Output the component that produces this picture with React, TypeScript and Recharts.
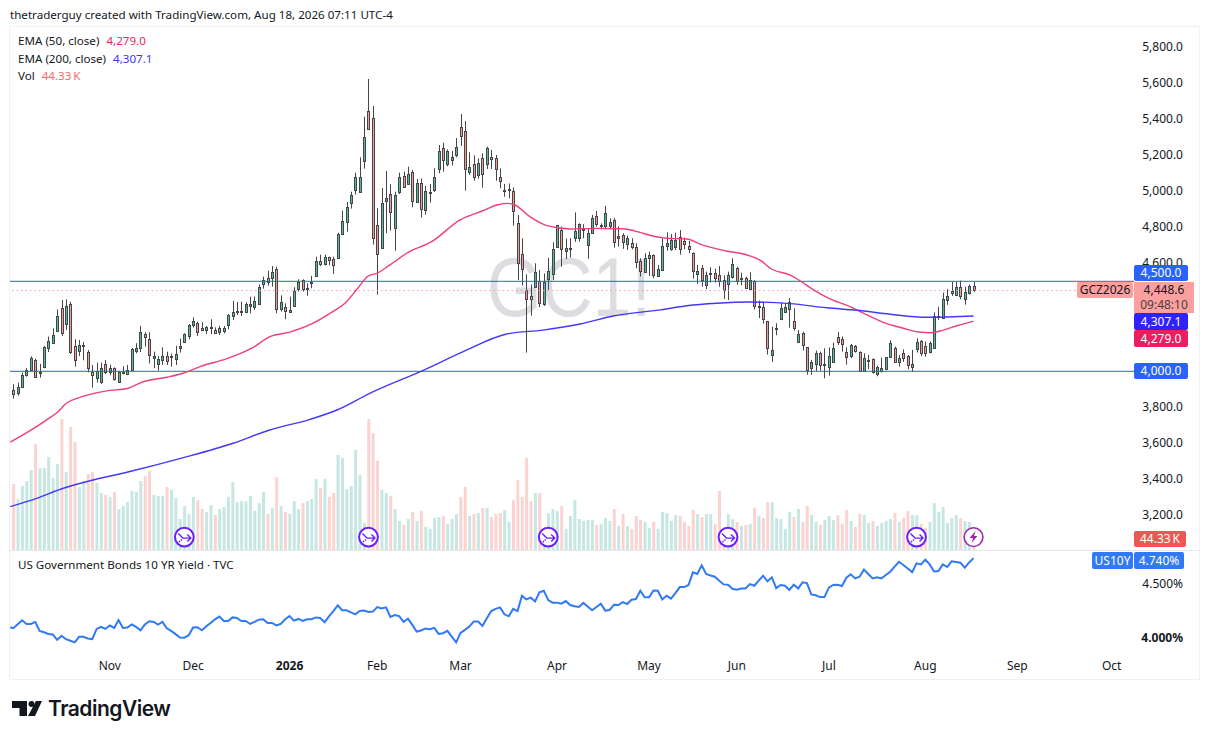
import { Bar, Cell, ComposedChart, Line, ReferenceDot, ReferenceLine, XAxis, YAxis } from 'recharts'

// gold futures daily candles
const opens = [
  3896,3881,3915,3981,4009,4061,3994,4022,4131,4159,
  4226,4350,4265,4372,4139,4115,4139,4106,3998,3965,
  3941,4039,3998,4017,3939,3991,3987,4009,4113,4131,
  4206,4180,4076,4043,4063,4083,4080,4070,4131,4165,
  4198,4259,4267,4243,4231,4243,4230,4220,4224,4259,
  4309,4330,4331,4331,4365,4359,4372,4483,4517,4520,
  4567,4348,4356,4328,4365,4459,4506,4461,4489,4528,
  4611,4594,4633,4622,4631,4765,4832,4937,5009,4998,
  5170,5446,5406,4813,4687,4948,4983,4798,4998,5083,
  5043,5106,4943,5044,4894,4993,5009,5122,5243,5154,
  5172,5200,5356,5333,5106,5150,5093,5183,5150,5189,
  5183,5078,5000,5009,5004,4826,4650,4454,4417,4470,
  4504,4372,4515,4539,4693,4783,4670,4678,4743,4743,
  4787,4704,4767,4861,4807,4807,4809,4839,4739,4756,
  4709,4713,4693,4611,4554,4631,4644,4531,4563,4698,
  4681,4689,4744,4722,4694,4656,4543,4572,4481,4541,
  4544,4533,4506,4487,4526,4574,4513,4517,4459,4502,
  4357,4356,4278,4093,4237,4289,4331,4348,4278,4163,
  4211,4133,4020,4043,4100,4033,4026,4050,4189,4178,
  4106,4087,4139,4106,4002,4056,4070,3985,4002,4015,
  4081,4128,4054,4100,4085,4022,4126,4169,4141,4107,
  4131,4302,4298,4398,4437,4426,4467,4404,4437,4472,
]
const highs = [
  3928,3937,3993,4018,4083,4070,4041,4141,4193,4239,
  4344,4396,4400,4387,4178,4174,4163,4118,4035,4048,
  4048,4063,4037,4022,4000,4028,4035,4130,4156,4252,
  4217,4217,4109,4085,4133,4109,4098,4141,4181,4211,
  4263,4300,4276,4272,4252,4289,4244,4252,4252,4319,
  4391,4385,4387,4383,4415,4415,4483,4526,4559,4585,
  4581,4422,4378,4415,4467,4511,4511,4489,4530,4637,
  4648,4648,4637,4637,4770,4893,4941,4998,5104,5189,
  5415,5624,5474,4906,5019,5113,5039,4998,5104,5109,
  5137,5119,5069,5072,5030,5041,5128,5257,5270,5233,
  5224,5296,5430,5391,5217,5200,5183,5211,5248,5230,
  5202,5128,5041,5044,5022,4869,4739,4539,4483,4600,
  4563,4544,4631,4717,4813,4804,4737,4739,4883,4822,
  4817,4794,4869,4891,4822,4919,4850,4850,4804,4767,
  4754,4739,4711,4628,4656,4665,4650,4591,4735,4772,
  4763,4770,4785,4743,4724,4661,4591,4591,4554,4578,
  4570,4585,4533,4554,4628,4581,4548,4526,4550,4507,
  4393,4387,4280,4248,4267,4381,4374,4406,4350,4230,
  4220,4135,4063,4115,4109,4128,4133,4159,4219,4193,
  4133,4152,4146,4111,4100,4091,4072,4031,4076,4078,
  4172,4137,4091,4122,4091,4119,4183,4174,4165,4165,
  4328,4359,4437,4456,4498,4498,4504,4470,4483,4496,
]
const lows = [
  3848,3865,3910,3970,4005,3965,3965,4017,4107,4155,
  4218,4196,4230,4096,4026,4085,4061,3994,3909,3937,
  3930,3985,3978,3948,3935,3983,3985,4005,4100,4107,
  4137,4044,4017,4004,4035,4035,4026,4035,4104,4163,
  4178,4243,4196,4229,4207,4207,4207,4202,4211,4233,
  4285,4313,4307,4329,4322,4341,4369,4459,4476,4470,
  4322,4331,4289,4326,4359,4443,4443,4420,4461,4526,
  4585,4589,4589,4541,4626,4757,4776,4904,4982,4995,
  5126,5345,4704,4426,4685,4767,4782,4670,4985,5020,
  5035,4911,4939,4854,4870,4937,4996,5100,5109,5139,
  5143,5189,5252,5004,5091,5059,5070,5020,5124,5124,
  5059,5017,4970,4961,4809,4507,4476,4104,4309,4468,
  4356,4363,4452,4507,4691,4581,4624,4631,4719,4720,
  4739,4626,4765,4804,4789,4789,4789,4687,4693,4680,
  4674,4678,4572,4526,4550,4530,4517,4526,4559,4670,
  4670,4674,4648,4678,4656,4515,4485,4470,4457,4493,
  4493,4470,4402,4396,4515,4481,4478,4461,4452,4343,
  4296,4265,4093,4052,4200,4287,4326,4243,4226,4159,
  4115,3981,3981,4002,4004,3961,3976,4048,4146,4109,
  4037,4072,4104,3998,3998,4011,3987,3972,3993,4011,
  4078,4046,4026,4052,4011,3998,4104,4085,4081,4100,
  4126,4285,4293,4369,4419,4422,4400,4370,4426,4441,
]
const closes = [
  3872,3913,3978,4006,4072,3970,3998,4133,4167,4200,
  4306,4215,4361,4109,4065,4144,4144,4020,3981,4000,
  4017,3996,4017,3959,3996,3998,4009,4124,4128,4217,
  4191,4091,4083,4067,4083,4059,4083,4094,4139,4207,
  4256,4278,4220,4231,4244,4246,4215,4239,4239,4311,
  4328,4333,4335,4374,4372,4389,4467,4506,4498,4550,
  4344,4383,4337,4339,4448,4496,4459,4465,4498,4611,
  4596,4633,4620,4593,4763,4833,4911,4980,5080,5080,
  5302,5348,4743,4650,4933,4961,4887,4978,5080,5026,
  5096,4944,5046,4904,5004,4996,5078,5222,5172,5222,
  5189,5244,5306,5122,5133,5078,5156,5098,5239,5178,
  5122,5056,5006,5013,4893,4604,4570,4404,4400,4550,
  4378,4496,4556,4678,4811,4678,4685,4685,4778,4817,
  4791,4769,4850,4820,4811,4878,4828,4717,4750,4720,
  4739,4693,4606,4559,4628,4644,4533,4567,4694,4713,
  4728,4730,4681,4706,4681,4559,4556,4509,4533,4544,
  4520,4500,4450,4533,4594,4504,4517,4465,4506,4365,
  4361,4289,4131,4117,4241,4350,4356,4383,4243,4206,
  4148,4009,4050,4100,4037,4039,4083,4128,4163,4154,
  4081,4144,4115,4002,4072,4061,3994,4022,4017,4078,
  4156,4050,4072,4076,4037,4041,4161,4104,4104,4159,
  4306,4306,4400,4417,4446,4467,4420,4439,4472,4449,
]
// thousands of contracts
const volumes = [
  266,205,258,278,322,427,330,330,375,290,
  346,528,314,496,435,254,278,306,314,270,
  230,222,214,234,165,177,193,238,234,278,
  298,318,222,218,218,254,242,210,125,177,
  145,214,201,165,153,181,141,165,173,214,
  274,193,197,197,218,157,189,234,145,169,
  294,177,153,145,197,165,189,197,205,286,
  250,286,214,230,383,371,246,258,403,302,
  109,528,471,359,242,230,218,165,117,101,
  125,153,117,157,93,85,129,133,137,105,
  125,145,214,254,137,145,149,169,169,133,
  145,149,161,113,201,282,214,371,197,230,
  230,60,149,165,157,177,85,137,201,125,
  117,121,121,101,105,129,117,165,97,145,
  97,85,137,121,113,89,113,85,153,149,
  117,141,137,113,97,161,145,133,145,145,
  105,238,80,145,125,113,97,101,105,169,
  137,129,193,193,129,125,85,153,133,165,
  113,177,141,113,101,121,137,121,141,105,
  161,117,93,145,141,109,117,97,109,117,
  125,149,113,129,157,141,141,105,89,113,
  189,153,173,109,129,141,129,117,113,44.33,
]
// US 10Y yield, percent
const yieldLead = 4.079
const yields = [
  4.070,4.105,4.141,4.108,4.108,4.126,4.047,4.035,4.020,4.015,
  3.969,4.003,3.974,3.961,3.947,3.995,3.995,3.981,3.974,4.064,
  4.082,4.064,4.094,4.073,4.144,4.073,4.076,4.103,4.082,4.052,
  4.103,4.132,4.126,4.103,4.126,4.070,4.047,4.018,3.989,3.986,
  4.009,4.076,4.079,4.052,4.087,4.117,4.150,4.174,4.135,4.135,
  4.167,4.162,4.135,4.135,4.108,4.126,4.147,4.150,4.117,4.117,
  4.096,4.108,4.150,4.179,4.138,4.153,4.135,4.150,4.150,4.167,
  4.162,4.124,4.177,4.225,4.278,4.232,4.232,4.213,4.195,4.225,
  4.229,4.217,4.220,4.262,4.249,4.259,4.171,4.189,4.179,4.126,
  4.156,4.100,4.041,4.050,4.068,4.062,4.073,4.020,4.026,4.047,
  3.997,3.947,4.029,4.056,4.085,4.129,4.129,4.091,4.159,4.225,
  4.245,4.259,4.195,4.177,4.245,4.225,4.368,4.333,4.350,4.315,
  4.400,4.415,4.327,4.303,4.303,4.293,4.318,4.281,4.270,4.262,
  4.300,4.266,4.232,4.262,4.293,4.229,4.235,4.284,4.281,4.308,
  4.290,4.330,4.337,4.415,4.353,4.353,4.418,4.415,4.333,4.368,
  4.340,4.393,4.451,4.451,4.471,4.596,4.579,4.666,4.579,4.565,
  4.552,4.513,4.477,4.474,4.435,4.426,4.438,4.438,4.480,4.464,
  4.513,4.562,4.507,4.546,4.441,4.471,4.464,4.423,4.474,4.438,
  4.497,4.490,4.381,4.372,4.355,4.355,4.445,4.471,4.474,4.461,
  4.542,4.576,4.536,4.552,4.623,4.579,4.536,4.546,4.536,4.569,
  4.602,4.653,4.703,4.669,4.634,4.598,4.687,4.676,4.723,4.676,
  4.605,4.608,4.676,4.649,4.707,4.700,4.693,4.642,4.696,4.740,
]
// EMA lines, read at their bends
const ema50Bars = [-0.7,3.8,7.6,10.6,11.8,16.3,21.3,26.2,29.6,35,38.7,42.6,48.7,54.7,58.5,63.1,68,72.2,76,78.6,80.9,82.9,85.9,89.7,95.4,101.9,107.1,110.3,112.5,114.4,117.8,121.7,127,133,139,142.9,145.2,149,153.6,156.6,162.3,167.3,170.3,173,177.2,179.4,182.5,185.9,190.8,194.7,198.4,203,206,209.5,212.1,215.2,219]
const ema50Values = [3606,3670,3730,3785,3817,3863,3891,3906,3942,3967,3989,4026,4070,4133,4192,4218,4263,4322,4387,4463,4529,4544,4591,4656,4720,4841,4892,4924,4933,4924,4859,4809,4791,4794,4792,4772,4756,4739,4735,4707,4670,4646,4618,4567,4535,4503,4452,4406,4359,4313,4272,4239,4220,4214,4229,4253,4279]
const ema200Bars = [-0.7,5.3,11.4,17.5,25.9,38.8,50.1,58.5,67.7,73.8,81.4,94,102.6,112.5,120.8,129.3,136.8,147.5,153.6,160.4,168,177.2,185.5,192.4,200,208.3,212.9,219]
const ema200Values = [3248,3294,3350,3392,3439,3520,3600,3674,3733,3785,3879,4011,4109,4207,4229,4263,4307,4341,4364,4378,4385,4376,4353,4339,4317,4300,4302,4307]

const priceTicks = [3200,3400,3600,3800,4600,4800,5000,5200,5400,5600,5800]
const yieldTicks = [4, 4.5]
const monthBars = [22,41,63,83,102,124,145,165,186,208,229,250.5]
const monthLabels = ['Nov','Dec','2026','Feb','Mar','Apr','May','Jun','Jul','Aug','Sep','Oct']
const rollBars = [39,81,122,163,206]
const earningsBar = 219

const FONT = '"Noto Sans", sans-serif'
const INK = '#131722'
const X_DOMAIN: [number, number] = [-0.76, 255.6]

const rows = opens.map((open, i) => ({
  i,
  open,
  high: highs[i],
  low: lows[i],
  close: closes[i],
  vol: volumes[i],
}))
const yieldRows = [{ i: -0.7, y: yieldLead }, ...yields.map((y, i) => ({ i, y }))]
const ema50Rows = ema50Bars.map((i, k) => ({ i, ema: ema50Values[k] }))
const ema200Rows = ema200Bars.map((i, k) => ({ i, ema: ema200Values[k] }))

function Candle(props: any) {
  const { x, y, width, height, payload } = props
  const cx = Math.round(x + width / 2)
  const perUnit = height / (payload.high - payload.low)
  const top = Math.round(y + (payload.high - Math.max(payload.open, payload.close)) * perUnit)
  const bottom = Math.round(y + (payload.high - Math.min(payload.open, payload.close)) * perUnit)
  const up = payload.close >= payload.open
  return (
    <g>
      <line x1={cx + 0.5} x2={cx + 0.5} y1={y} y2={y + height} stroke="#464646" strokeWidth={1} />
      <rect
        x={cx - 0.5}
        y={top + 0.5}
        width={2}
        height={Math.max(bottom - top, 1)}
        fill={up ? '#4fb8a2' : '#f29a9a'}
        stroke="#464646"
        strokeWidth={1}
      />
    </g>
  )
}

function RollIcon(props: any) {
  const { cx, cy } = props
  return (
    <g transform={`translate(${cx},${cy})`}>
      <circle r={9.4} fill="#fff" stroke="#6a1fff" strokeWidth={2} />
      <path d="M-6,-3.5 L-1.5,1 H6 M3,-2.5 L6.5,1 L3,4.5" fill="none" stroke="#6a1fff" strokeWidth={1.4} />
      <path d="M-5.5,5 L-2.5,2.5" fill="none" stroke="#6a1fff" strokeWidth={1.4} strokeDasharray="1.5 1" />
    </g>
  )
}

function BoltIcon(props: any) {
  const { cx, cy } = props
  return (
    <g transform={`translate(${cx},${cy})`}>
      <circle r={9.4} fill="#fff" stroke="#9c27b0" strokeWidth={1.6} />
      <path d="M2,-6 L-4,1 H-0.5 L-2,6 L4,-1 H0.5 Z" fill="#9c27b0" />
    </g>
  )
}

function PriceTick(props: any) {
  const { y, payload } = props
  return (
    <text x={1183} y={y} dy={4} textAnchor="end" fontSize={12} fontFamily={FONT} fill={INK}>
      {payload.value.toLocaleString('en-US', { minimumFractionDigits: 1 })}
    </text>
  )
}

function YieldTick(props: any) {
  const { y, payload } = props
  return (
    <text x={1183} y={y} dy={6} textAnchor="end" fontSize={12} fontFamily={FONT} fill={INK} fontWeight={payload.value === 4 ? 700 : 400}>
      {payload.value.toFixed(3)}%
    </text>
  )
}

function MonthTick(props: any) {
  const { x, y, payload } = props
  const label = monthLabels[monthBars.indexOf(payload.value)]
  return (
    <text x={x} y={y} dy={12} textAnchor="middle" fontSize={12} fontFamily={FONT} fill={INK} fontWeight={label === '2026' ? 700 : 400}>
      {label}
    </text>
  )
}

function Badge({ left, top, width, height = 16, color, ink = '#fff', children }: any) {
  return (
    <div
      style={{
        position: 'absolute',
        left,
        top,
        width,
        height,
        background: color,
        color: ink,
        font: `12px/${height}px ${FONT}`,
        textAlign: 'center',
        borderRadius: 2,
      }}
    >
      {children}
    </div>
  )
}

function Legend({ top, name, value, color }: any) {
  return (
    <div style={{ position: 'absolute', left: 18, top, font: `11.6px/16px ${FONT}`, color: INK, whiteSpace: 'nowrap' }}>
      {name}
      <span style={{ color, marginLeft: 7 }}>{value}</span>
    </div>
  )
}

export default function App() {
  return (
    <div style={{ position: 'absolute', left: 0, top: 0, width: 1209, height: 739, background: '#fff', overflow: 'hidden' }}>
      <div style={{ position: 'absolute', left: 10, top: 7, font: `11.6px/16px ${FONT}`, color: INK, whiteSpace: 'nowrap' }}>
        thetraderguy created with TradingView.com, Aug 18, 2026 07:11 UTC-4
      </div>

      {/* frame and pane divider */}
      <div style={{ position: 'absolute', left: 9, top: 26, width: 1189, height: 652, border: '1.5px solid #f0f1f4' }} />
      <div style={{ position: 'absolute', left: 10, top: 550, width: 1189, height: 1, background: '#e6e8ee' }} />

      <svg width={1209} height={739} style={{ position: 'absolute', left: 0, top: 0 }}>
        <text x={569} y={316} textAnchor="middle" fontSize={84} fontFamily='"Liberation Sans", sans-serif' fill="#dcdde0" textLength={164} lengthAdjust="spacingAndGlyphs">
          GC1!
        </text>
      </svg>

      {/* volume layer */}
      <div style={{ position: 'absolute', left: 0, top: 27 }}>
        <ComposedChart width={1199} height={523} data={rows} margin={{ top: 0, right: 65, bottom: 0, left: 10 }}>
          <XAxis dataKey="i" type="number" domain={X_DOMAIN} allowDataOverflow hide />
          <YAxis yAxisId="vol" domain={[0, 2108]} allowDataOverflow hide />
          <Bar yAxisId="vol" dataKey="vol" barSize={3} isAnimationActive={false}>
            {rows.map((r) => (
              <Cell key={r.i} fill={r.close >= r.open ? '#c7e7e2' : '#fbd3d1'} />
            ))}
          </Bar>
          {rollBars.map((b) => (
            <ReferenceDot key={b} yAxisId="vol" x={b} y={52} shape={RollIcon} />
          ))}
          <ReferenceDot yAxisId="vol" x={earningsBar} y={52} shape={BoltIcon} />
        </ComposedChart>
      </div>

      {/* price layer */}
      <div style={{ position: 'absolute', left: 0, top: 27 }}>
        <ComposedChart width={1199} height={523} data={rows} margin={{ top: 0, right: 0, bottom: 0, left: 10 }}>
          <XAxis dataKey="i" type="number" domain={X_DOMAIN} allowDataOverflow hide />
          <YAxis
            yAxisId="price"
            orientation="right"
            width={65}
            domain={[3007, 5913]}
            ticks={priceTicks}
            interval={0}
            allowDataOverflow
            axisLine={false}
            tickLine={false}
            tick={PriceTick}
          />
          <ReferenceLine yAxisId="price" y={4448.6} stroke="#fb9b9b" strokeDasharray="1.5 3" />
          <ReferenceLine yAxisId="price" y={4500} stroke="#2f5fd8" strokeWidth={1} />
          <ReferenceLine yAxisId="price" y={4000} stroke="#2f5fd8" strokeWidth={1} />
          <Bar
            yAxisId="price"
            dataKey={(d: any) => [d.low, d.high]}
            barSize={3}
            shape={Candle}
            isAnimationActive={false}
          />
          <Line yAxisId="price" data={ema50Rows} dataKey="ema" type="monotone" stroke="#ef3f78" strokeWidth={1.4} dot={false} isAnimationActive={false} />
          <Line yAxisId="price" data={ema200Rows} dataKey="ema" type="monotone" stroke="#4538f5" strokeWidth={1.4} dot={false} isAnimationActive={false} />
        </ComposedChart>
      </div>

      {/* yield pane */}
      <div style={{ position: 'absolute', left: 0, top: 551 }}>
        <ComposedChart width={1199} height={127} data={yieldRows} margin={{ top: 0, right: 0, bottom: 0, left: 10 }}>
          <XAxis
            dataKey="i"
            type="number"
            domain={X_DOMAIN}
            allowDataOverflow
            ticks={monthBars}
            interval={0}
            height={28}
            axisLine={false}
            tickLine={false}
            tick={MonthTick}
          />
          <YAxis
            orientation="right"
            width={65}
            scale="log"
            domain={[3.882, 4.814]}
            ticks={yieldTicks}
            interval={0}
            allowDataOverflow
            axisLine={false}
            tickLine={false}
            tick={YieldTick}
          />
          <Line dataKey="y" stroke="#3179f5" strokeWidth={2} dot={false} isAnimationActive={false} />
        </ComposedChart>
      </div>

      <Legend top={33} name="EMA (50, close)" value="4,279.0" color="#e91e63" />
      <Legend top={51} name="EMA (200, close)" value="4,307.1" color="#3d35f5" />
      <Legend top={68} name="Vol" value={'44.33\u202fK'} color="#f26b6b" />
      <div style={{ position: 'absolute', left: 18, top: 557, font: `11.6px/16px ${FONT}`, color: INK, whiteSpace: 'nowrap' }}>
        US Government Bonds 10 YR Yield · TVC
      </div>

      <Badge left={1134} top={265} width={54} color="#2962ff">4,500.0</Badge>
      <Badge left={1077} top={282} width={56} color="#fb9f9f" ink="#131722">GCZ2026</Badge>
      <div style={{ position: 'absolute', left: 1134, top: 282, width: 60, height: 31, background: '#fb9f9f', color: '#131722', font: `12px/15px ${FONT}`, textAlign: 'center' }}>
        4,448.6
        <br />
        <span style={{ color: '#4a3f3f' }}>09:48:10</span>
      </div>
      <Badge left={1134} top={313} width={54} height={17} color="#3023f5">4,307.1</Badge>
      <Badge left={1134} top={330} width={54} height={17} color="#e91e63">4,279.0</Badge>
      <Badge left={1134} top={363} width={54} color="#2962ff">4,000.0</Badge>
      <Badge left={1134} top={531} width={52} color="#f05656">{'44.33\u202fK'}</Badge>
      <Badge left={1092} top={552} width={41} height={17} color="#3179f5">US10Y</Badge>
      <Badge left={1134} top={552} width={50} height={17} color="#3179f5">4.740%</Badge>

      <svg width={34} height={20} viewBox="0 0 34 20" style={{ position: 'absolute', left: 11, top: 699 }}>
        <path d="M1,2 H16 V17 H8.5 V9 H1 Z" fill="#131722" />
        <circle cx={20.5} cy={5} r={3} fill="#131722" />
        <path d="M25,2 H31 L24,17 H17 Z" fill="#131722" />
      </svg>
      <div style={{ position: 'absolute', left: 48, top: 694, font: `600 21px/30px Inter, sans-serif`, color: '#131722', letterSpacing: -0.5 }}>
        TradingView
      </div>
    </div>
  )
}
